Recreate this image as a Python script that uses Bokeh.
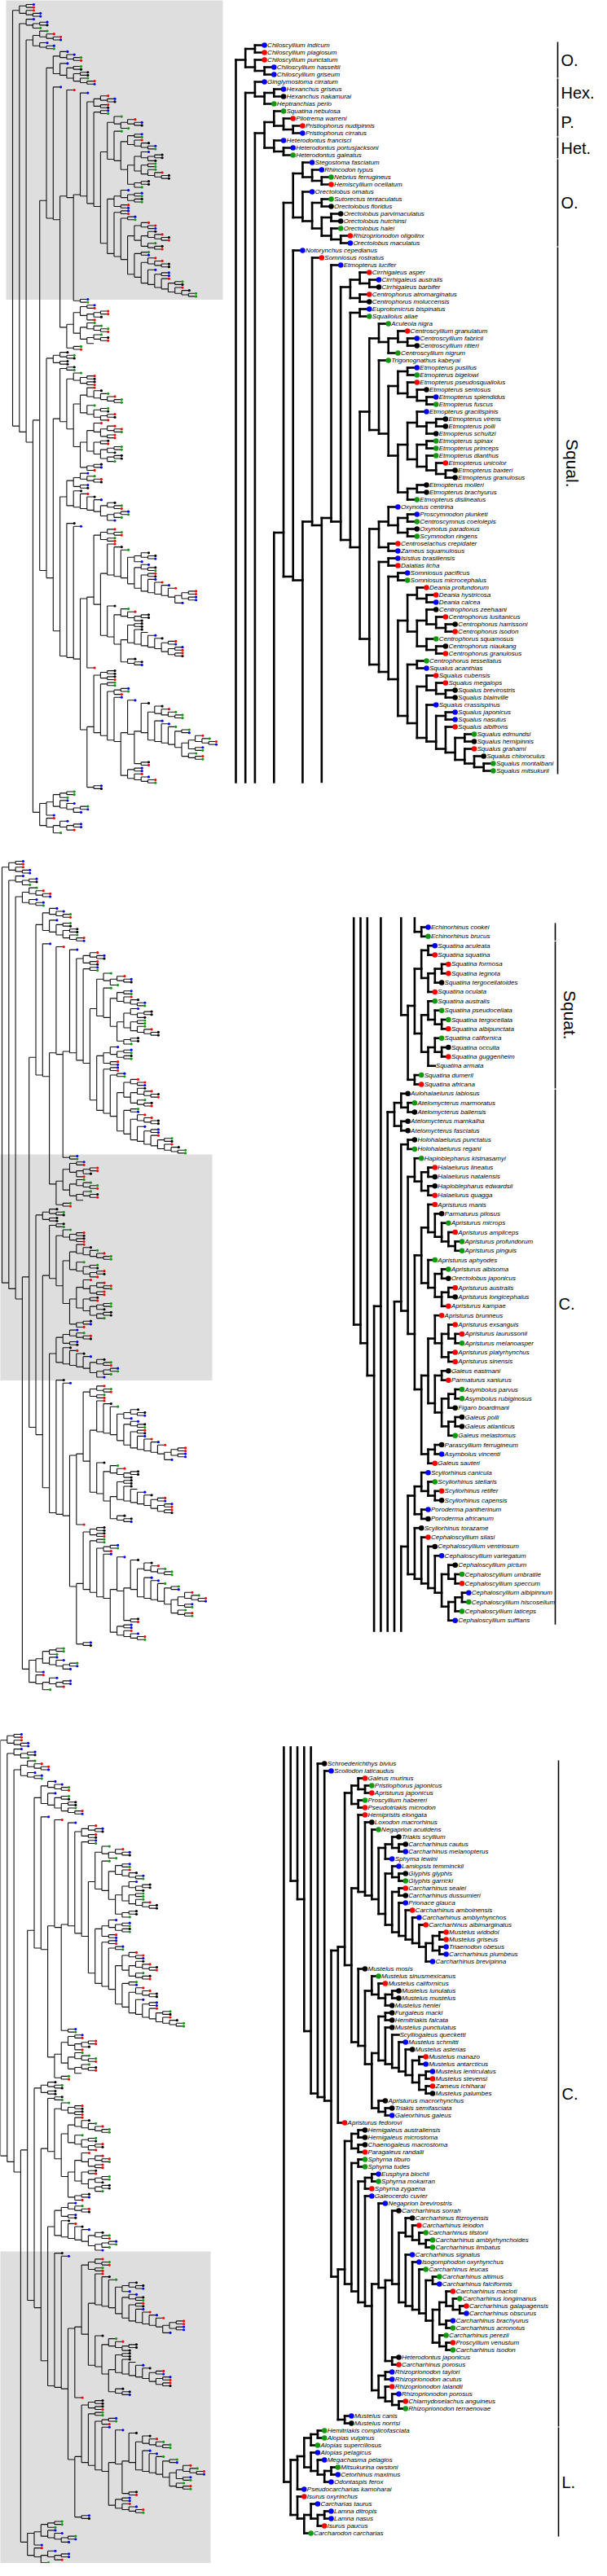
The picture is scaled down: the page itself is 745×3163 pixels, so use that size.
import math
from bokeh.plotting import figure
from bokeh.models import Range1d
from bokeh.embed import file_html
from bokeh.resources import INLINE
from bokeh.core.properties import value


def J(*xs):
    return "(" + ",".join(xs) + ")"


# ---------------- DATA: clades as Newick strings (Name|colour code) ----------------
# colour codes: b blue, r red, g green, k black, n none
CHILO = "((Chiloscyllium_indicum|b,Chiloscyllium_plagiosum|r),(Chiloscyllium_punctatum|r,(Chiloscyllium_hasseltii|b,Chiloscyllium_griseum|b)))"
HEXAN = "(Ginglymostoma_cirratum|b,((Hexanchus_griseus|b,Hexanchus_nakamurai|k),Heptranchias_perlo|g))"
PRIHET = "((Squatina_nebulosa|g,(Pliotrema_warreni|r,(Pristiophorus_nudipinnis|r,Pristiophorus_cirratus|b))),(Heterodontus_francisci|b,(Heterodontus_portusjacksoni|b,Heterodontus_galeatus|g)))"
ORECT = "((Stegostoma_fasciatum|b,(Rhincodon_typus|b,(Nebrius_ferrugineus|g,Hemiscyllium_ocellatum|r))),(Orectolobus_ornatus|b,((Sutorectus_tentaculatus|g,Orectolobus_floridus|k),((Orectolobus_parvimaculatus|k,Orectolobus_hutchinsi|k),(Orectolobus_halei|g,(Rhizoprionodon_oligolinx|r,Orectolobus_maculatus|b))))))"
CIRR = "((Cirrhigaleus_asper|r,(Cirrhigaleus_australis|b,Cirrhigaleus_barbifer|k)),(Centrophorus_atromarginatus|r,Centrophorus_moluccensis|k))"
EUPRO = "(Euprotomicrus_bispinatus|b,Squaliolus_aliae|g)"
ACUCEN = "(Aculeola_nigra|g,((Centroscyllium_granulatum|r,(Centroscyllium_fabricii|b,Centroscyllium_ritteri|k)),Centroscyllium_nigrum|g))"
ETMO = "(Trigonognathus_kabeyai|g,(((Etmopterus_pusillus|b,Etmopterus_bigelowi|g),(Etmopterus_pseudosqualiolus|r,(Etmopterus_sentosus|k,(Etmopterus_splendidus|b,Etmopterus_fuscus|g)))),(((Etmopterus_gracilispinis|b,((Etmopterus_virens|k,Etmopterus_polli|k),Etmopterus_schultzi|k)),((Etmopterus_spinax|g,Etmopterus_princeps|g),(Etmopterus_dianthus|g,(Etmopterus_unicolor|r,(Etmopterus_baxteri|k,Etmopterus_granulosus|k))))),((Etmopterus_molleri|k,Etmopterus_brachyurus|k),Etmopterus_dislineatus|g))))"
OXY = "((Oxynotus_centrina|b,((Proscymnodon_plunketi|b,Centroscymnus_coelolepis|g),(Oxynotus_paradoxus|k,Scymnodon_ringens|g))),(Centroselachus_crepidater|r,Zameus_squamulosus|b))"
DALAT = "(Isistius_brasiliensis|b,Dalatias_licha|r)"
SOMN = "(Somniosus_pacificus|b,Somniosus_microcephalus|g)"
CENTRO = "((Deania_profundorum|r,(Deania_hystricosa|r,Deania_calcea|b)),((Centrophorus_zeehaani|k,(Centrophorus_lusitanicus|r,(Centrophorus_harrissoni|k,Centrophorus_isodon|r))),(Centrophorus_squamosus|g,(Centrophorus_niaukang|k,Centrophorus_granulosus|r))))"
SQUALUS = "((Centrophorus_tessellatus|g,Squalus_acanthias|b),((Squalus_cubensis|r,(Squalus_megalops|r,(Squalus_brevirostris|k,Squalus_blainville|k))),(Squalus_crassispinus|b,((Squalus_japonicus|b,Squalus_nasutus|b),(Squalus_albifrons|r,((Squalus_edmundsi|g,Squalus_hemipinnis|k),(Squalus_grahami|r,(Squalus_chloroculus|k,(Squalus_montalbani|g,Squalus_mitsukurii|g)))))))))"
ECHINO = "(Echinorhinus_cookei|b,Echinorhinus_brucus|g)"
SQUAT = "((((Squatina_aculeata|b,Squatina_squatina|r),(((Squatina_formosa|r,Squatina_legnota|r),Squatina_tergocellatoides|k),Squatina_oculata|r)),((Squatina_australis|g,(Squatina_pseudocellata|g,(Squatina_tergocellata|g,Squatina_albipunctata|r))),((Squatina_californica|g,(Squatina_occulta|k,Squatina_guggenheim|r)),Squatina_armata|n))),(Squatina_dumeril|g,Squatina_africana|r))"
ATEL = "((Aulohalaelurus_labiosus|k,(Atelomycterus_marmoratus|g,Atelomycterus_baliensis|k)),(Atelomycterus_marnkalha|k,Atelomycterus_fasciatus|k))"
HOLO = "(Holohalaelurus_punctatus|k,Holohalaelurus_regani|g)"
HAPLO = "(Haploblepharus_kistnasamyi|g,((Halaelurus_lineatus|r,Halaelurus_natalensis|k),(Haploblepharus_edwardsii|k,Halaelurus_quagga|r)))"
APR_A = "(Apristurus_manis|r,(Parmaturus_pilosus|k,(Apristurus_microps|g,(Apristurus_ampliceps|r,(Apristurus_profundorum|g,Apristurus_pinguis|g)))))"
APR_B = "(Apristurus_aphyodes|g,((Apristurus_albisoma|g,Orectolobus_japonicus|k),((Apristurus_australis|r,Apristurus_longicephalus|k),Apristurus_kampae|r)))"
APR_C = "(Apristurus_brunneus|r,((Apristurus_exsanguis|r,(Apristurus_laurussonii|r,Apristurus_melanoasper|g)),(Apristurus_platyrhynchus|r,Apristurus_sinensis|r)))"
GALEUS = "((Galeus_eastmani|k,Parmaturus_xaniurus|r),(((Asymbolus_parvus|g,Asymbolus_rubiginosus|g),Figaro_boardmani|k),((Galeus_polli|k,Galeus_atlanticus|k),Galeus_melastomus|g)))"
PARASC = "((Parascyllium_ferrugineum|k,Asymbolus_vincenti|b),Galeus_sauteri|r)"
SCYLIO = "((Scyliorhinus_canicula|b,(Scyliorhinus_stellaris|g,(Scyliorhinus_retifer|r,Scyliorhinus_capensis|k))),(Poroderma_pantherinum|b,Poroderma_africanum|k))"
CEPHALO = "(Scyliorhinus_torazame|k,(Cephaloscyllium_silasi|r,(Cephaloscyllium_ventriosum|k,(Cephaloscyllium_variegatum|b,((Cephaloscyllium_pictum|k,(Cephaloscyllium_umbratile|g,Cephaloscyllium_speccum|r)),(((Cephaloscyllium_albipinnum|b,Cephaloscyllium_hiscosellum|g),Cephaloscyllium_laticeps|g),Cephaloscyllium_sufflans|b))))))"
GALGRP = "((Galeus_murinus|r,(Pristiophorus_japonicus|g,Apristurus_japonicus|r)),(Proscyllium_habereri|g,Pseudotriakis_microdon|r))"
TRIAK = "((Triakis_scyllium|k,(Carcharhinus_cautus|k,Carcharhinus_melanopterus|b)),Sphyrna_lewini|b)"
LAMIO = "((Lamiopsis_temminckii|b,(Glyphis_glyphis|k,Glyphis_garricki|g)),((Carcharhinus_sealei|r,Carcharhinus_dussumieri|k),(Prionace_glauca|b,(Carcharhinus_amboinensis|r,(Carcharhinus_amblyrhynchos|b,(Carcharhinus_albimarginatus|r,(((Mustelus_widodoi|r,Mustelus_griseus|r),(Triaenodon_obesus|b,Carcharhinus_plumbeus|b)),Carcharhinus_brevipinna|b)))))))"
MUST_A = "(Mustelus_sinusmexicanus|g,(Mustelus_californicus|r,((Mustelus_lunulatus|k,Mustelus_mustelus|k),Mustelus_henlei|k)))"
MUST_B = "((Furgaleus_macki|k,Hemitriakis_falcata|k),(Mustelus_punctulatus|k,(Scylliogaleus_quecketti|n,(Mustelus_schmitti|b,(Mustelus_asterias|k,((Mustelus_manazo|r,Mustelus_antarcticus|b),((Mustelus_lenticulatus|b,Mustelus_stevensi|r),(Zameus_ichiharai|r,Mustelus_palumbes|k))))))))"
MUST_C = "(Apristurus_macrorhynchus|k,(Triakis_semifasciata|k,Galeorhinus_galeus|b))"
HEMIG = "((Hemigaleus_australiensis|k,Hemigaleus_microstoma|k),(Chaenogaleus_macrostoma|k,Paragaleus_randalli|r))"
SPHYR = "(Sphyrna_tiburo|g,Sphyrna_tudes|g)"
SPHB = "((Eusphyra_blochii|b,Sphyrna_mokarran|g),Sphyrna_zygaena|r)"
FITZ = "(Carcharhinus_fitzroyensis|k,(Carcharhinus_leiodon|r,(Carcharhinus_tilstoni|g,(Carcharhinus_amblyrhynchoides|g,Carcharhinus_limbatus|g))))"
SIGN = "(Carcharhinus_signatus|b,(Isogomphodon_oxyrhynchus|b,(Carcharhinus_leucas|g,((Carcharhinus_altimus|g,Carcharhinus_falciformis|b),(((Carcharhinus_macloti|r,(Carcharhinus_longimanus|g,(Carcharhinus_galapagensis|r,Carcharhinus_obscurus|b))),(Carcharhinus_brachyurus|b,Carcharhinus_acronotus|g)),(Carcharhinus_perezii|g,(Proscyllium_venustum|r,Carcharhinus_isodon|g)))))))"
HETJ = "(Heterodontus_japonicus|k,Carcharhinus_porosus|r)"
RHIZO = "((Rhizoprionodon_taylori|b,Rhizoprionodon_acutus|b),(Rhizoprionodon_lalandii|r,(Rhizoprionodon_porosus|b,(Chlamydoselachus_anguineus|r,Rhizoprionodon_terraenovae|g))))"
MUSCN = "(Mustelus_canis|b,Mustelus_norrisi|k)"
LAMN = "(((((Hemitriakis_complicofasciata|g,Alopias_vulpinus|g),Alopias_superciliosus|g),(Alopias_pelagicus|b,(Megachasma_pelagios|b,((Mitsukurina_owstoni|g,Cetorhinus_maximus|b),Odontaspis_ferox|b)))),Pseudocarcharias_kamoharai|b),(Isurus_oxyrinchus|r,((Carcharias_taurus|b,((Lamna_ditropis|b,Lamna_nasus|b),Isurus_paucus|r)),Carcharodon_carcharias|g)))"

# clade bars on the right
CLADE_TEXT = ["O.", "Hex.", "P.", "Het.", "O.", "Squal.", "", "Squat.", "C.", "C.", "L."]
CLADE_FIRST = ["Chiloscyllium indicum", "Ginglymostoma cirratum", "Squatina nebulosa", "Heterodontus francisci",
               "Stegostoma fasciatum", "Notorynchus cepedianus", "Echinorhinus cookei", "Squatina aculeata",
               "Aulohalaelurus labiosus", "Schroederichthys bivius", "Hemitriakis complicofasciata"]
CLADE_LAST = ["Chiloscyllium griseum", "Heptranchias perlo", "Pristiophorus cirratus", "Heterodontus galeatus",
              "Orectolobus maculatus", "Squalus mitsukurii", "Echinorhinus brucus", "Squatina africana",
              "Cephaloscyllium sufflans", "Mustelus norrisi", "Carcharodon carcharias"]
PANEL_FIRST = ["Chiloscyllium indicum", "Echinorhinus cookei", "Schroederichthys bivius"]
PANEL_LAST = ["Squalus mitsukurii", "Cephaloscyllium sufflans", "Carcharodon carcharias"]

# ---------------- backbone assembly ----------------
CARCH1 = J("Hemipristis_elongata|r", J("Loxodon_macrorhinus|k", J("Negaprion_acutidens|g", J(TRIAK, LAMIO))))
MUST = J("Mustelus_mosis|k", J(MUST_A, J(MUST_B, MUST_C)))
N470 = J(EUPRO, J(J(ACUCEN, ETMO), J(OXY, J(DALAT, J(SOMN, J(CENTRO, SQUALUS))))))
N365 = J(J("Etmopterus_lucifer|b", J(CIRR, N470)), ECHINO)
N225 = J(ORECT, J("Notorynchus_cepedianus|b", J(J("Somniosus_rostratus|r", N365), SQUAT)))
N18 = J(J("Carcharhinus_sorrah|k", J(FITZ, SIGN)), HETJ)
N15 = J("Galeocerdo_cuvier|b", J(J("Negaprion_brevirostris|b", N18), RHIZO))
N11B = J(J(HEMIG, J(SPHYR, J(SPHB, N15))), MUSCN)
N11A = J(J(GALGRP, J(CARCH1, MUST)), "Apristurus_fedorovi|r")
N8 = J("Schroederichthys_bivius|k", J("Scoliodon_laticaudus|b", J(N11A, N11B)))
SCYLA = J(HOLO, J(HAPLO, J(J(APR_A, APR_B), J(J(APR_C, GALEUS), PARASC))))
P3 = J(ATEL, J(SCYLA, J(J(SCYLIO, CEPHALO), N8)))
TREE = J(CHILO, J(HEXAN, J(PRIHET, J(J(N225, P3), LAMN))))


def parse(s):
    pos = 0

    def node():
        nonlocal pos
        if s[pos] == "(":
            pos += 1
            kids = [node()]
            while s[pos] == ",":
                pos += 1
                kids.append(node())
            assert s[pos] == ")"
            pos += 1
            return {"kids": kids}
        j = pos
        while pos < len(s) and s[pos] not in ",()":
            pos += 1
        nm, col = s[j:pos].split("|")
        return {"name": nm.replace("_", " "), "col": col}

    r = node()
    assert pos == len(s)
    return r


root = parse(TREE)
tips = []


def lay(n, d):
    n["d"] = d
    if "kids" in n:
        s = 0.0
        c = 0
        for k in n["kids"]:
            lay(k, d + 1)
            s += k["ysum"]
            c += k["cnt"]
        n["ysum"], n["cnt"] = s, c
        n["y"] = s / c
    else:
        i = len(tips)
        tips.append(n)
        n["ysum"], n["cnt"], n["y"] = float(i), 1, float(i)


lay(root, 0)
idx = {t["name"]: i for i, t in enumerate(tips)}

raw = []


def segs(n):
    if "kids" in n:
        ks = n["kids"]
        raw.append((n["d"], ks[0]["y"], n["d"], ks[-1]["y"]))
        for k in ks:
            raw.append((n["d"], k["y"], k["d"], k["y"]))
            segs(k)


segs(root)

COLS = {"b": "#0000ff", "r": "#ff0000", "g": "#119911", "k": "#000000"}

# ---------------- layout (page pixel coordinates) ----------------
DETAIL = [dict(x0=297.0, sx=11.7, y0=63.0, sy=9.0, top=51, bot=968, bar=692),
          dict(x0=441.7, sx=8.3, y0=1146.0, sy=11.35, top=1135, bot=2010, bar=689),
          dict(x0=331.0, sx=8.3, y0=2173.0, sy=9.0, top=2153, bot=3125, bar=693)]
OVER = [dict(x0=23.0, y0=13.0), dict(x0=10.0, y0=1065.0), dict(x0=8.0, y0=2137.0)]
OV_SX, OV_SY = 8.3, 3.62
CLADE_PANEL = [0, 0, 0, 0, 0, 0, 1, 1, 1, 2, 2]
CLADE_ROT = [False, False, False, False, False, True, False, True, False, False, False]
CLADE_FRAC = [0.5, 0.5, 0.5, 0.5, 0.5, 0.41, 0.5, 0.5, 0.4, 0.5, 0.5]
TIP_FONT = value("Liberation Sans")

p = figure(width=729, height=3147, x_range=Range1d(8, 737), y_range=Range1d(3155, 8),
           output_backend="svg", toolbar_location=None, min_border=0,
           x_axis_type=None, y_axis_type=None)
p.grid.visible = False
p.outline_line_color = None

# grey boxes on overview
bx, by, bw, bh = [], [], [], []
for k, o in enumerate(OVER):
    i0, i1 = idx[PANEL_FIRST[k]], idx[PANEL_LAST[k]]
    ya = o["y0"] + OV_SY * i0 - 2
    yb = o["y0"] + OV_SY * i1 + 4
    if k == 0:
        ya = 0
    bx.append(o["x0"] + 125)
    bw.append(266)
    by.append((ya + yb) / 2)
    bh.append(yb - ya)
p.rect(x=bx, y=by, width=bw, height=bh, fill_color="#dedede", line_color=None)

# overview trees
ox0, oy0, ox1, oy1, dx, dy, dc = [], [], [], [], [], [], []
for o in OVER:
    for (d0, a, d1, b) in raw:
        ox0.append(o["x0"] + OV_SX * d0)
        ox1.append(o["x0"] + OV_SX * d1)
        oy0.append(o["y0"] + OV_SY * a)
        oy1.append(o["y0"] + OV_SY * b)
    for t in tips:
        if t["col"] in COLS:
            dx.append(o["x0"] + OV_SX * t["d"] + 1)
            dy.append(o["y0"] + OV_SY * idx[t["name"]])
            dc.append(COLS[t["col"]])
p.segment(x0=ox0, y0=oy0, x1=ox1, y1=oy1, line_color="#111111", line_width=1.1)
p.scatter(x=dx, y=dy, size=3.2, fill_color=dc, line_color=None)

# detail trees
sx0, sy0, sx1, sy1 = [], [], [], []
tx, ty, tt, tcx, tcy, tcc = [], [], [], [], [], []
for k, c in enumerate(DETAIL):
    i0, i1 = idx[PANEL_FIRST[k]], idx[PANEL_LAST[k]]
    ymap = lambda i: c["y0"] + c["sy"] * (i - i0)
    xmap = lambda d: c["x0"] + c["sx"] * d
    hlo = ymap(i0) - 0.55 * c["sy"]
    hhi = ymap(i1) + 0.55 * c["sy"]
    for (d0, a, d1, b) in raw:
        if d0 == d1:
            ya, yb = sorted((ymap(a), ymap(b)))
            if yb < hlo or ya > hhi:
                continue
            ya, yb = max(ya, c["top"]), min(yb, c["bot"])
            if ya < yb:
                sx0.append(xmap(d0)); sx1.append(xmap(d0)); sy0.append(ya); sy1.append(yb)
        else:
            y = ymap(a)
            if hlo <= y <= hhi:
                sx0.append(xmap(d0)); sx1.append(xmap(d1)); sy0.append(y); sy1.append(y)
    for i in range(i0, i1 + 1):
        t = tips[i]
        x = xmap(t["d"])
        y = ymap(i)
        if t["col"] in COLS:
            tcx.append(x); tcy.append(y); tcc.append(COLS[t["col"]])
            tx.append(x + 3.5)
        else:
            tx.append(x + 1)
        ty.append(y)
        tt.append(t["name"])

p.segment(x0=sx0, y0=sy0, x1=sx1, y1=sy1, line_color="black", line_width=2.6, line_cap="square")
p.scatter(x=tcx, y=tcy, size=6.5, fill_color=tcc, line_color=None)
p.text(x=tx, y=ty, text=tt, text_font=TIP_FONT, text_font_style="italic",
       text_font_size="8px", text_baseline="middle", text_align="left", text_color="black")

# clade bars and labels
bx0, by0, by1 = [], [], []
lx, ly, lt = [], [], []
rx, ry, rt = [], [], []
for j, name in enumerate(CLADE_TEXT):
    c = DETAIL[CLADE_PANEL[j]]
    i0 = idx[PANEL_FIRST[CLADE_PANEL[j]]]
    ya = c["y0"] + c["sy"] * (idx[CLADE_FIRST[j]] - i0) - 0.45 * c["sy"]
    yb = c["y0"] + c["sy"] * (idx[CLADE_LAST[j]] - i0) + 0.45 * c["sy"]
    bx0.append(c["bar"]); by0.append(ya); by1.append(yb)
    ym = ya + CLADE_FRAC[j] * (yb - ya)
    if CLADE_ROT[j]:
        rx.append(c["bar"] + 18); ry.append(ym); rt.append(name)
    elif name:
        lx.append(c["bar"] + 4); ly.append(ym); lt.append(name)
p.segment(x0=bx0, y0=by0, x1=bx0, y1=by1, line_color="black", line_width=1.6)
p.text(x=lx, y=ly, text=lt, text_font=value("Liberation Sans"), text_font_size="20px",
       text_baseline="middle", text_align="left", text_color="black")
p.text(x=rx, y=ry, text=rt, text_font=value("Liberation Sans"), text_font_size="21px",
       text_baseline="middle", text_align="center", text_color="black", angle=-math.pi / 2)

open("out.html", "w").write(file_html(p, INLINE))
